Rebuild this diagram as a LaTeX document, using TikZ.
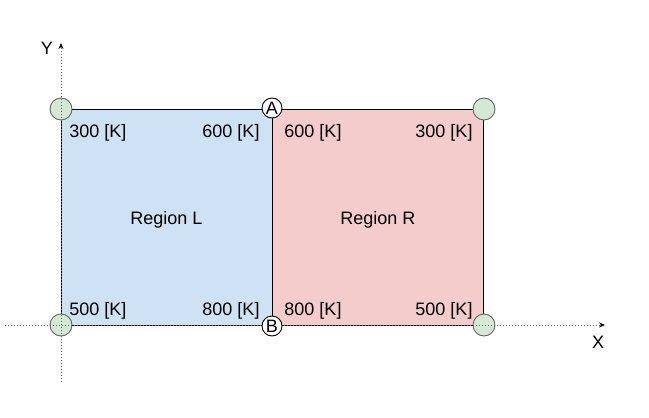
\documentclass[tikz,border=0pt]{standalone}
\usepackage{fontspec}
\setmainfont{Liberation Sans}
\usetikzlibrary{arrows.meta}
\definecolor{lblue}{HTML}{CFE2F3}
\definecolor{lpink}{HTML}{F4CCCC}
\definecolor{lgreen}{HTML}{D5E8D4}
\definecolor{axisgray}{HTML}{666666}
\tikzset{
  region/.style={draw=black, line width=0.9pt, minimum width=211pt, minimum height=216pt, inner sep=0pt},
  rlabel/.style={font=\fontsize{18}{20}\selectfont, inner sep=0pt},
  corner/.style={circle, draw=axisgray, fill=lgreen, line width=0.9pt, minimum size=22pt, inner sep=0pt},
  pt/.style={circle, draw=black, fill=white, line width=0.9pt, minimum size=20pt, inner sep=0pt, font=\fontsize{18}{20}\selectfont},
  temp/.style={font=\fontsize{18}{20}\selectfont, inner sep=0pt},
  axis/.style={draw=axisgray, line width=0.8pt, dash pattern=on 1.2pt off 1.8pt, -{Stealth[length=6pt,width=5pt,color=black,fill=black]}},
  axlabel/.style={font=\fontsize{18}{20}\selectfont, inner sep=0pt}
}
\begin{document}
\begin{tikzpicture}[x=1pt,y=-1pt]
\useasboundingbox (0,0) rectangle (649,418);
\node[region, fill=lblue] (L) at (166.5,217) {};
\node[region, fill=lpink] (R) at (378,217) {};
\node[rlabel] (Ltext) at (166.5,220) {Region L};
\node[rlabel] (Rtext) at (378,220) {Region R};
\node[corner] (c1) at (61,109) {};
\node[corner] (c2) at (61,325) {};
\node[corner] (c3) at (484,109) {};
\node[corner] (c4) at (484,325) {};
\coordinate (ybot) at (61,382);
\coordinate (ytop) at (61,43);
\coordinate (xleft) at (5,325);
\coordinate (xright) at (605,325);
\draw[axis] (ybot) -- (ytop);
\draw[axis] (xleft) -- (xright);
\node[pt] (A) at (272,108) {A};
\node[pt] (B) at (272,326) {B};
\node[axlabel] (Y) at (47,48) {Y};
\node[axlabel] (X) at (598,342) {X};
\node[temp] (t1) at (98,133) {300 [K]};
\node[temp] (t2) at (231,133) {600 [K]};
\node[temp] (t3) at (313,133) {600 [K]};
\node[temp] (t4) at (444,133) {300 [K]};
\node[temp] (t5) at (98,311) {500 [K]};
\node[temp] (t6) at (231,311) {800 [K]};
\node[temp] (t7) at (313,311) {800 [K]};
\node[temp] (t8) at (444,311) {500 [K]};
\end{tikzpicture}
\end{document}
